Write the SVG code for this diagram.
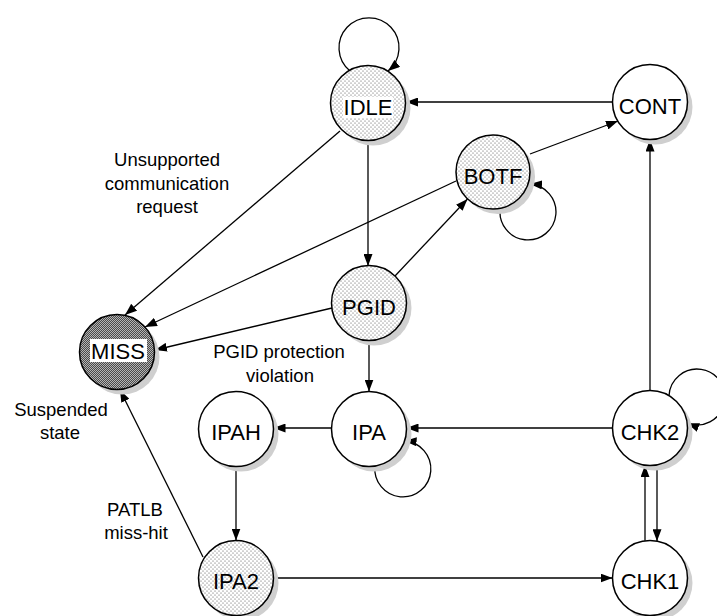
<svg xmlns="http://www.w3.org/2000/svg" width="717" height="616" viewBox="0 0 717 616">
  <style>
    .node { stroke: #000; stroke-width: 1.5; }
    .plain { fill: #fff; }
    .dotted { fill: url(#dots); }
    .dark { fill: url(#checker); }
    .shadow { fill: #cfcfcf; stroke: none; }
    .nlabel { font-family: "Liberation Sans", Arial, sans-serif; font-size: 22px; text-anchor: middle; fill: #000; }
    .elabel { font-family: "Liberation Sans", Arial, sans-serif; font-size: 18.5px; text-anchor: middle; fill: #000; }
    .edge { fill: none; stroke: #000; stroke-width: 1.3; marker-end: url(#arrow); }
    .knock { fill: #fff; stroke: none; }
  </style>
  <defs>
    <pattern id="dots" width="4" height="4" patternUnits="userSpaceOnUse">
      <rect width="4" height="4" fill="#fff"/>
      <circle cx="1" cy="1" r="0.55" fill="#444"/>
      <circle cx="3" cy="3" r="0.55" fill="#444"/>
    </pattern>
    <pattern id="checker" width="2" height="2" patternUnits="userSpaceOnUse">
      <rect width="2" height="2" fill="#4a4a4a"/>
      <rect x="0" y="0" width="1" height="1" fill="#b4b4b4"/>
      <rect x="1" y="1" width="1" height="1" fill="#b4b4b4"/>
    </pattern>
    <marker id="arrow" viewBox="0 0 12 9" refX="12" refY="4.5" markerWidth="12" markerHeight="9" markerUnits="userSpaceOnUse" orient="auto">
      <path d="M0,0 L12,4.5 L0,9 z" fill="#000"/>
    </marker>
  </defs>

  <!-- transitions -->
  <g id="connectors">
    <path class="edge" d="M350,71 A30,30 0 1,1 388,71"/>
    <path class="edge" d="M613,102 L406,102"/>
    <path class="edge" d="M530,154 L618,121"/>
    <path class="edge" d="M500.2,208.3 A28,28 0 1,0 530,184"/>
    <path class="edge" d="M368,140.5 L368,266"/>
    <path class="edge" d="M395,276 L467.5,199"/>
    <path class="edge" d="M369,340.5 L369,391.5"/>
    <path class="edge" d="M340,131 L125,315"/>
    <path class="edge" d="M456,181 L145,327"/>
    <path class="edge" d="M332,308 L155,350"/>
    <path class="edge" d="M203,557 L120,390"/>
    <path class="edge" d="M612.5,428 L406.5,428"/>
    <path class="edge" d="M375,466 A28,28 0 1,0 404.6,441"/>
    <path class="edge" d="M331.5,428 L273.5,428"/>
    <path class="edge" d="M236,466.5 L236,540.5"/>
    <path class="edge" d="M273.5,578 L612.5,578"/>
    <path class="edge" d="M650,390.5 L650,139.5"/>
    <path class="edge" d="M669,395.7 A28,28 0 1,1 687.2,423.3"/>
    <path class="edge" d="M645,540.8 L645,465.2"/>
    <path class="edge" d="M657,464.8 L657,541.2"/>
  </g>

  <!-- states -->
  <g id="IDLE">
    <circle class="shadow" cx="373" cy="108" r="37.5"/>
    <circle class="node dotted" cx="368" cy="103" r="37.5"/>
    <rect class="knock" x="343" y="97" width="50" height="21"/>
    <text class="nlabel" x="368" y="115">IDLE</text>
  </g>
  <g id="CONT">
    <circle class="shadow" cx="655" cy="107" r="37.5"/>
    <circle class="node plain" cx="650" cy="102" r="37.5"/>
    <text class="nlabel" x="650" y="114">CONT</text>
  </g>
  <g id="BOTF">
    <circle class="shadow" cx="498" cy="177" r="37"/>
    <circle class="node dotted" cx="493" cy="172" r="37"/>
    <text class="nlabel" x="493" y="184">BOTF</text>
  </g>
  <g id="PGID">
    <circle class="shadow" cx="374" cy="308" r="37.5"/>
    <circle class="node dotted" cx="369" cy="303" r="37.5"/>
    <text class="nlabel" x="369" y="315">PGID</text>
  </g>
  <g id="MISS">
    <circle class="shadow" cx="122" cy="357" r="37.5"/>
    <circle class="node dark" cx="117" cy="352" r="37.5"/>
    <rect class="knock" x="90" y="339" width="57" height="23"/>
    <text class="nlabel" x="118" y="359">MISS</text>
  </g>
  <g id="IPAH">
    <circle class="shadow" cx="241" cy="434" r="37.5"/>
    <circle class="node plain" cx="236" cy="429" r="37.5"/>
    <text class="nlabel" x="236" y="440">IPAH</text>
  </g>
  <g id="IPA">
    <circle class="shadow" cx="374" cy="434" r="37.5"/>
    <circle class="node plain" cx="369" cy="429" r="37.5"/>
    <text class="nlabel" x="369" y="440">IPA</text>
  </g>
  <g id="CHK2">
    <circle class="shadow" cx="655" cy="433" r="37.5"/>
    <circle class="node plain" cx="650" cy="428" r="37.5"/>
    <text class="nlabel" x="650" y="440">CHK2</text>
  </g>
  <g id="IPA2">
    <circle class="shadow" cx="241" cy="583" r="37.5"/>
    <circle class="node dotted" cx="236" cy="578" r="37.5"/>
    <text class="nlabel" x="236" y="589">IPA2</text>
  </g>
  <g id="CHK1">
    <circle class="shadow" cx="655" cy="583" r="37.5"/>
    <circle class="node plain" cx="650" cy="578" r="37.5"/>
    <text class="nlabel" x="650" y="589">CHK1</text>
  </g>

  <!-- annotations -->
  <g id="labels">
    <text class="elabel" x="167" y="166">Unsupported</text>
    <text class="elabel" x="167" y="190">communication</text>
    <text class="elabel" x="167" y="213">request</text>
    <text class="elabel" x="279" y="358">PGID protection</text>
    <text class="elabel" x="280" y="382">violation</text>
    <text class="elabel" x="61" y="416">Suspended</text>
    <text class="elabel" x="60" y="439">state</text>
    <text class="elabel" x="135" y="516">PATLB</text>
    <text class="elabel" x="136" y="539">miss-hit</text>
  </g>
</svg>
